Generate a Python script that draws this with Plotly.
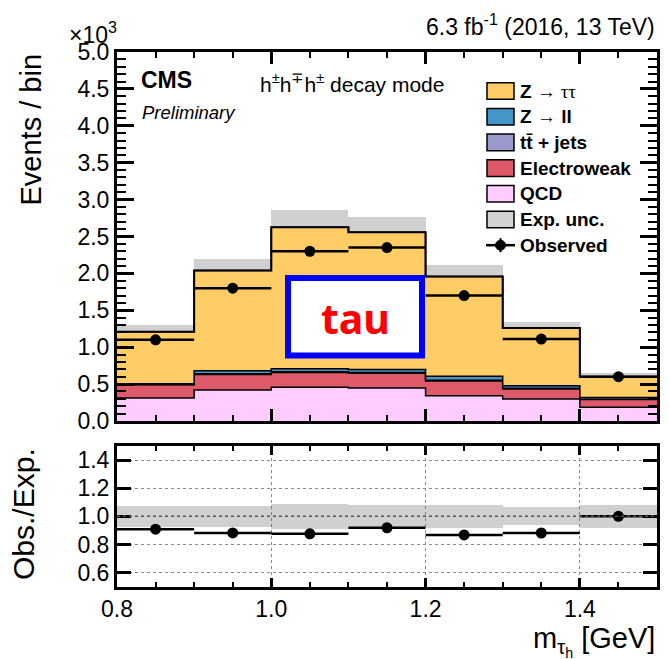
import numpy as np
import plotly.graph_objects as go

W, H = 669, 659

# ---- data (events in units of 10^3 per bin) ----
bin_edges = [0.8, 0.9, 1.0, 1.1, 1.2, 1.3, 1.4, 1.5]
qcd = [0.310, 0.420, 0.457, 0.447, 0.343, 0.298, 0.185]
ewk = [0.180, 0.210, 0.200, 0.200, 0.200, 0.136, 0.105]
ttbar = [0.005, 0.010, 0.010, 0.010, 0.010, 0.010, 0.005]
zll = [0.010, 0.040, 0.040, 0.040, 0.055, 0.035, 0.025]
ztt = [0.705, 1.360, 1.920, 1.860, 1.350, 0.780, 0.280]
exp_unc = [0.090, 0.150, 0.230, 0.210, 0.160, 0.080, 0.050]
observed = [1.10, 1.80, 2.30, 2.35, 1.70, 1.11, 0.60]

SERIF = "font-family:'Liberation Serif',serif"
legend_labels = [f"<b>Z</b> <span style=\"{SERIF}\">\u2192 \u03c4\u03c4</span>",
                 f"<b>Z</b> <span style=\"{SERIF}\">\u2192</span> <b>ll</b>",
                 "<b>tt\u0304 + jets</b>", "<b>Electroweak</b>", "<b>QCD</b>",
                 "<b>Exp. unc.</b>", "<b>Observed</b>"]

colors = {"qcd": "#ffccff", "ewk": "#de5a6a", "ttbar": "#9999cc",
          "zll": "#4496c8", "ztt": "#ffcc66"}
unc_color = "rgba(110,110,110,0.32)"
FONT = "Liberation Sans, Arial, sans-serif"


def px(x):
    return x / W


def py(y):
    return 1 - y / H


edges = np.array(bin_edges)
centers = 0.5 * (edges[:-1] + edges[1:])
widths = np.diff(edges)

fig = go.Figure()

# ---- stacked backgrounds, drawn as filled step histograms ----
stack = [(qcd, colors["qcd"]), (ewk, colors["ewk"]), (ttbar, colors["ttbar"]),
         (zll, colors["zll"]), (ztt, colors["ztt"])]
cum = np.zeros(len(centers))
for i, (vals, col) in enumerate(stack):
    cum = cum + np.array(vals)
    fig.add_trace(go.Scatter(
        x=edges, y=np.append(cum, cum[-1]), mode="lines",
        line=dict(shape="hv", color="black", width=1.5),
        fill="tozeroy" if i == 0 else "tonexty", fillcolor=col,
        xaxis="x", yaxis="y", hoverinfo="skip"))
total = cum
unc = np.array(exp_unc)

# uncertainty band on the total
fig.add_trace(go.Bar(x=centers, y=2 * unc, base=total - unc, width=widths,
                     marker=dict(color=unc_color, line=dict(width=0)),
                     xaxis="x", yaxis="y", hoverinfo="skip"))
fig.add_trace(go.Scatter(x=edges, y=np.append(total, total[-1]), mode="lines",
                         line=dict(shape="hv", color="black", width=2),
                         xaxis="x", yaxis="y", hoverinfo="skip"))

# observed data
obs = np.array(observed)
fig.add_trace(go.Scatter(
    x=centers, y=obs, mode="markers",
    marker=dict(symbol="circle", size=11, color="black"),
    error_x=dict(type="data", array=widths / 2, color="black", thickness=2.5, width=0),
    xaxis="x", yaxis="y", hoverinfo="skip"))

# ---- ratio panel ----
rel = unc / total
fig.add_trace(go.Bar(x=centers, y=2 * rel, base=1 - rel, width=widths,
                     marker=dict(color=unc_color, line=dict(width=0)),
                     xaxis="x2", yaxis="y2", hoverinfo="skip"))
fig.add_trace(go.Scatter(
    x=centers, y=obs / total, mode="markers",
    marker=dict(symbol="circle", size=11, color="black"),
    error_x=dict(type="data", array=widths / 2, color="black", thickness=2.5, width=0),
    xaxis="x2", yaxis="y2", hoverinfo="skip"))

# empty traces that register the minor-tick overlay axes
fig.add_trace(go.Scatter(x=[None], y=[None], xaxis="x3", yaxis="y3",
                         mode="markers", hoverinfo="skip"))
fig.add_trace(go.Scatter(x=[None], y=[None], xaxis="x4", yaxis="y4",
                         mode="markers", hoverinfo="skip"))

xdom = [px(117), px(657)]
main_dom = [py(421), py(52)]
ratio_dom = [py(586.7), py(446)]
common = dict(showline=True, linewidth=3, linecolor="black", mirror="ticks",
              zeroline=False, tickcolor="black", automargin=False, showgrid=False,
              tickfont=dict(family=FONT, size=23, color="black"))
minor_common = dict(showline=True, linewidth=3, linecolor="black", mirror="ticks",
                    zeroline=False, tickcolor="black", automargin=False,
                    showgrid=False, showticklabels=False, ticks="inside")
grid = dict(showgrid=True, gridcolor="#8a8a8a", griddash="dot", gridwidth=1)

fig.update_layout(
    width=W, height=H, margin=dict(l=0, r=0, t=0, b=0, autoexpand=False),
    paper_bgcolor="white", plot_bgcolor="white", showlegend=False,
    barmode="overlay", bargap=0,
    xaxis=dict(domain=xdom, anchor="y", range=[0.8, 1.5], showticklabels=False,
               ticks="inside", ticklen=12, tickwidth=2.5, tick0=0.8, dtick=0.2,
               **common),
    yaxis=dict(domain=main_dom, anchor="x", range=[0, 5], tick0=0, dtick=0.5,
               tickformat=".1f", ticks="inside", ticklen=17, tickwidth=3, **common),
    xaxis2=dict(domain=xdom, anchor="y2", range=[0.8, 1.5], tick0=0.8, dtick=0.2,
                tickformat=".1f", ticks="inside", ticklen=9, tickwidth=2.5,
                **{**common, **grid}),
    yaxis2=dict(domain=ratio_dom, anchor="x2", range=[0.5, 1.5],
                tick0=0.6, dtick=0.2, tickformat=".1f", ticks="inside", ticklen=14,
                tickwidth=3, **{**common, **grid}),
    # minor ticks
    xaxis3=dict(overlaying="x", anchor="y3", range=[0.8, 1.5], tick0=0.8, dtick=0.05,
                ticklen=6, tickwidth=2, **minor_common),
    yaxis3=dict(overlaying="y", anchor="x3", range=[0, 5], tick0=0, dtick=0.1,
                ticklen=9, tickwidth=2, **minor_common),
    xaxis4=dict(overlaying="x2", anchor="y4", range=[0.8, 1.5], tick0=0.8, dtick=0.05,
                ticklen=5, tickwidth=2, **minor_common),
    yaxis4=dict(overlaying="y2", anchor="x4", range=[0.5, 1.5], tick0=0.6, dtick=0.2,
                ticklen=14, tickwidth=3, **minor_common),
)

shapes = []
# reference line at unity in the ratio panel
shapes.append(dict(type="line", xref="x2", yref="y2", x0=0.8, x1=1.5, y0=1, y1=1,
                   line=dict(color="#555555", width=1.5, dash="dot"), layer="above"))

# legend
leg_fill = [colors["ztt"], colors["zll"], colors["ttbar"], colors["ewk"],
            colors["qcd"], "#d2d2d2"]
annotations = []
for i, lab in enumerate(legend_labels):
    yc = 91 + 25.7 * i
    if i < 6:
        shapes.append(dict(type="rect", xref="paper", yref="paper",
                           x0=px(487), x1=px(514), y0=py(yc + 8.3), y1=py(yc - 8.3),
                           fillcolor=leg_fill[i], line=dict(color="black", width=1.5)))
    else:
        shapes.append(dict(type="line", xref="paper", yref="paper",
                           x0=px(486), x1=px(515), y0=py(yc), y1=py(yc),
                           line=dict(color="black", width=2.5)))
        shapes.append(dict(type="line", xref="paper", yref="paper",
                           x0=px(500.5), x1=px(500.5), y0=py(yc - 7), y1=py(yc + 7),
                           line=dict(color="black", width=2)))
        shapes.append(dict(type="circle", xref="paper", yref="paper",
                           x0=px(495.5), x1=px(505.5), y0=py(yc + 5), y1=py(yc - 5),
                           fillcolor="black", line=dict(color="black", width=1)))
    annotations.append(dict(text=lab, x=px(518), y=py(yc),
                            xanchor="left", yanchor="middle",
                            font=dict(family=FONT, size=19)))

# text labels
annotations += [
    dict(text="6.3 fb<sup>-1</sup> (2016, 13 TeV)", x=px(657), y=py(25),
         xanchor="right", yanchor="middle", font=dict(family=FONT, size=23)),
    dict(text="\u00d710<sup>3</sup>", x=px(67), y=py(33), xanchor="left",
         yanchor="middle", font=dict(family=FONT, size=23)),
    dict(text="<b>CMS</b>", x=px(139), y=py(80), xanchor="left", yanchor="middle",
         font=dict(family=FONT, size=23)),
    dict(text="<i>Preliminary</i>", x=px(140), y=py(112), xanchor="left",
         yanchor="middle", font=dict(family=FONT, size=18.5)),
    dict(text="h<sup>\u00b1</sup>h<sup>\u2213</sup>h<sup>\u00b1</sup> decay mode",
         x=px(258), y=py(83), xanchor="left", yanchor="middle",
         font=dict(family=FONT, size=21)),
    dict(text="Events / bin", x=px(30), y=py(129.5), textangle=-90, xanchor="center",
         yanchor="middle", font=dict(family=FONT, size=29)),
    dict(text="Obs./Exp.", x=px(23), y=py(514), textangle=-90, xanchor="center",
         yanchor="middle", font=dict(family=FONT, size=30)),
    dict(text="m<sub>\u03c4<sub>h</sub></sub> [GeV]", x=px(657), y=py(641),
         xanchor="right", yanchor="middle", font=dict(family=FONT, size=29)),
]
for a in annotations:
    a.setdefault("xref", "paper")
    a.setdefault("yref", "paper")
    a.setdefault("showarrow", False)
    a["font"].setdefault("color", "black")

# highlighted label box
shapes.append(dict(type="rect", xref="paper", yref="paper",
                   x0=px(288), x1=px(422), y0=py(355.5), y1=py(278),
                   fillcolor="white", line=dict(color="#0000ff", width=6), layer="above"))
annotations.append(dict(text="<b>tau</b>", xref="paper", yref="paper", x=px(355),
                        y=py(318), xanchor="center", yanchor="middle", showarrow=False,
                        font=dict(family="Noto Sans, Open Sans, sans-serif", size=41,
                                  color="#ff0000")))

fig.update_layout(shapes=shapes, annotations=annotations)
fig.write_html("out.html")
